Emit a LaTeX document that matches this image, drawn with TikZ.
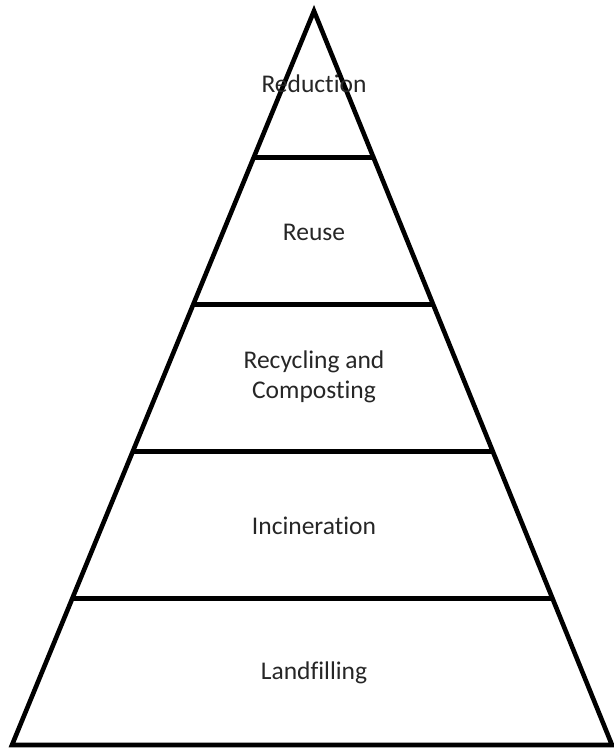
\documentclass[tikz,border=0pt]{standalone}
\usepackage{fontspec}
\setmainfont{Carlito}[Ligatures={NoCommon}]
\usetikzlibrary{calc}
\begin{document}
\begin{tikzpicture}[x=1pt,y=-1pt,
  edge/.style={line width=4.6pt,line join=miter,draw=black},
  band/.style={line width=4.6pt,draw=black},
  lbl/.style={text=black!85,font=\fontsize{25.5}{30}\selectfont,align=center,inner sep=0pt}]
\useasboundingbox (0,0) rectangle (613,749);
\coordinate (A) at (314,11);
\coordinate (L) at (12,745);
\coordinate (R) at (612,745);
\draw[edge] (A) -- (L) -- (R) -- cycle;
\foreach \t/\n in {0.2/a,0.4/b,0.6/c,0.8/d}{
  \coordinate (l\n) at ($(A)!\t!(L)$);
  \coordinate (r\n) at ($(A)!\t!(R)$);
  \draw[band] (l\n) -- (r\n);
}
\node[lbl] (t1) at (314,84) {Reduction};
\node[lbl] (t2) at (314,232) {Reuse};
\node[lbl] (t3) at (314,377) {Recycling and\\Composting};
\node[lbl] (t4) at (314,526) {Incineration};
\node[lbl] (t5) at (314,673) {Landfilling};
\end{tikzpicture}
\end{document}
